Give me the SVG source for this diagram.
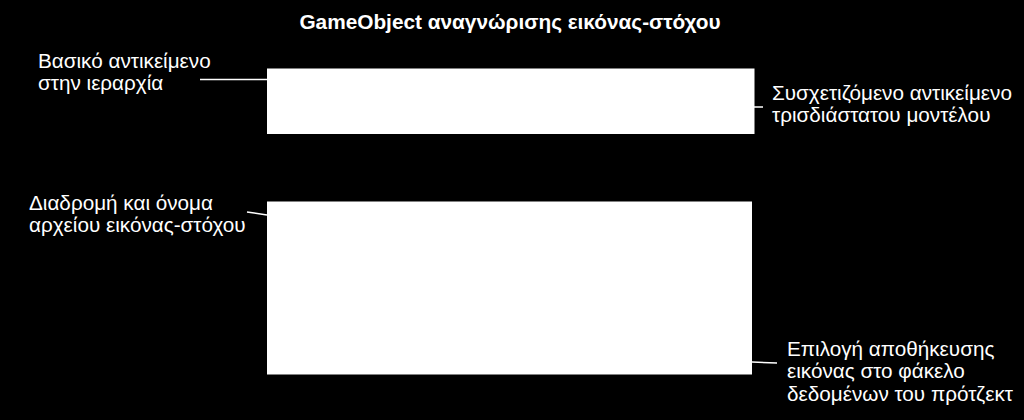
<svg xmlns="http://www.w3.org/2000/svg" width="1024" height="420" viewBox="0 0 1024 420">
<style>
.lbl{font-family:"Liberation Sans",Arial,sans-serif;font-size:20.7px;fill:#fff}
.ttl{font-family:"Liberation Sans",Arial,sans-serif;font-size:20.8px;font-weight:bold;fill:#fff}
.box{fill:#fff}
.con{stroke:#fff;stroke-width:1.5;fill:none}
</style>
<rect width="1024" height="420" fill="#000"/>
<text class="ttl" x="510" y="28.5" text-anchor="middle">GameObject αναγνώρισης εικόνας-στόχου</text>
<g id="node-root"><rect class="box" x="267" y="68.5" width="487.5" height="65.5"/></g>
<g id="node-image"><rect class="box" x="267" y="201.5" width="485" height="173"/></g>
<g id="label-root"><text class="lbl" x="38" y="67.5">Βασικό αντικείμενο</text><text class="lbl" x="38" y="90">στην ιεραρχία</text></g>
<g id="label-model"><text class="lbl" x="772" y="99.5">Συσχετιζόμενο αντικείμενο</text><text class="lbl" x="772" y="122">τρισδιάστατου μοντέλου</text></g>
<g id="label-path"><text class="lbl" x="29" y="209.5">Διαδρομή και όνομα</text><text class="lbl" x="29" y="232">αρχείου εικόνας-στόχου</text></g>
<g id="label-save"><text class="lbl" x="787" y="355.5">Επιλογή αποθήκευσης</text><text class="lbl" x="787" y="378">εικόνας στο φάκελο</text><text class="lbl" x="787" y="400.5">δεδομένων του πρότζεκτ</text></g>
<g id="connectors">
<line class="con" x1="200" y1="79.5" x2="267" y2="79.5"/>
<line class="con" x1="754" y1="107" x2="763" y2="107"/>
<line class="con" x1="247" y1="212" x2="267" y2="215"/>
<line class="con" x1="752" y1="362" x2="777" y2="363"/>
</g>
</svg>
